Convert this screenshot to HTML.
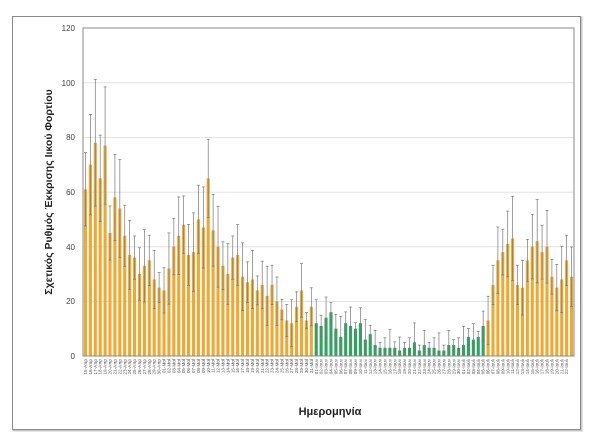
<!DOCTYPE html>
<html><head><meta charset="utf-8"><style>
html,body{margin:0;padding:0;background:#fff;width:600px;height:442px;overflow:hidden}
svg{display:block;font-family:"Liberation Sans","DejaVu Sans",sans-serif}
</style></head><body>
<svg id="s" width="600" height="442" xmlns="http://www.w3.org/2000/svg">
<rect x="13.5" y="17.5" width="568" height="413" fill="none" stroke="#c8c8c8" stroke-width="2"/>
<rect x="12.5" y="16.5" width="568" height="413" fill="#fff" stroke="#8a8a8a" stroke-width="1"/>
<g stroke="#e3e3e3" stroke-width="1">
<line x1="83" x2="574" y1="82.8" y2="82.8"/><line x1="83" x2="574" y1="137.5" y2="137.5"/>
<line x1="83" x2="574" y1="192.2" y2="192.2"/><line x1="83" x2="574" y1="246.8" y2="246.8"/>
<line x1="83" x2="574" y1="301.5" y2="301.5"/>
</g>
<g id="bars"></g>
<rect x="83" y="28" width="491" height="328" fill="none" stroke="#8a8a8a" stroke-width="1"/>
<g font-size="8" fill="#444" text-anchor="end">
<text x="75" y="31">120</text><text x="75" y="86">100</text><text x="75" y="140">80</text>
<text x="75" y="195">60</text><text x="75" y="250">40</text><text x="75" y="304">20</text><text x="75" y="359">0</text>
</g>
<text transform="translate(52,192) rotate(-90)" text-anchor="middle" font-size="10.5" font-weight="bold" fill="#222">Σχετικός Ρυθμός Έκκρισης Ιικού Φορτίου</text>
<text x="330" y="415" text-anchor="middle" font-size="11" font-weight="bold" fill="#222">Ημερομηνία</text>
<g id="lab" font-size="4.6" fill="#555" text-anchor="end"></g>
</svg>
<script>
var o1=[61,70,78,65,77,45,58,54,44,37,36,30,33,35,28,25,24,32,40,44,48,37,38,50,47,65,46,40,33,30,36,37,29,27,28,24,26,22,26,20,17,13,12,18,24,13,18];
var g=[12,11,14,16,10,7,12,11,10,12,6,8,4,3,3,3,3,2,3,3,5,2,4,3,3,2,2,4,4,3,4,7,6,7,11];
var o2=[13,26,35,38,41,43,26,25,35,40,42,38,40,29,25,28,35,29];
var vals=o1.concat(g,o2),n=vals.length,p=491/n,h="",y0=356,k=328/120;
for(var i=0;i<n;i++){var v=vals[i],c=i>=o1.length&&i<o1.length+g.length?"#2ea55f":"#f0a830";
var e=Math.max(2,v*0.22+((i*7)%5)*1.5);
var x=83+i*p+0.9,w=p-1.8,cx=x+w/2;
h+='<rect x="'+x.toFixed(2)+'" y="'+(y0-v*k).toFixed(2)+'" width="'+w.toFixed(2)+'" height="'+(v*k).toFixed(2)+'" fill="'+c+'"/>';
var t=y0-(v+e)*k,b=y0-Math.max(0,v-e)*k;
h+='<line x1="'+cx.toFixed(2)+'" x2="'+cx.toFixed(2)+'" y1="'+t.toFixed(2)+'" y2="'+b.toFixed(2)+'" stroke="#777" stroke-width="0.7"/>';
h+='<line x1="'+(cx-1.5).toFixed(2)+'" x2="'+(cx+1.5).toFixed(2)+'" y1="'+t.toFixed(2)+'" y2="'+t.toFixed(2)+'" stroke="#777" stroke-width="0.7"/>';
h+='<line x1="'+(cx-1.5).toFixed(2)+'" x2="'+(cx+1.5).toFixed(2)+'" y1="'+b.toFixed(2)+'" y2="'+b.toFixed(2)+'" stroke="#777" stroke-width="0.7"/>';}
document.getElementById("bars").innerHTML=h;
</script>
<script>
var m=[["Απρ",15,30],["Μαΐ",1,31],["Ιουν",1,30],["Ιουλ",1,22]],L="",j=0;
for(var a=0;a<m.length;a++)for(var d=m[a][1];d<=m[a][2]&&j<100;d++){var x=83+j*4.91+4;
L+='<text transform="translate('+x.toFixed(2)+',359) rotate(-90)">'+(d<10?"0"+d:d)+'-'+m[a][0]+'</text>';j++;}
document.getElementById("lab").innerHTML=L;
</script>
</body></html>
